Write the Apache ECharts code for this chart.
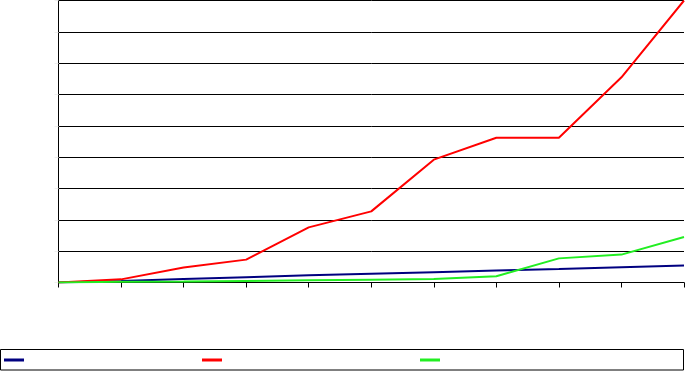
<!DOCTYPE html>
<html><head><meta charset="utf-8">
<script src="https://cdn.jsdelivr.net/npm/echarts@6/dist/echarts.min.js"></script>
<style>html,body{margin:0;padding:0;background:#fff}#c{width:685px;height:371px}</style>
</head><body><div id="c"></div>
<script>
const categories = ['1','2','3','4','5','6','7','8','9','10','11'];
const seriesNames = [' ', '  ', '   '];
const blueValues  = [0, 0.05, 0.11, 0.17, 0.23, 0.28, 0.33, 0.38, 0.43, 0.49, 0.54];
const redValues   = [0, 0.1, 0.48, 0.73, 1.76, 2.27, 3.92, 4.62, 4.62, 6.55, 9.0];
const greenValues = [0, 0.02, 0.03, 0.05, 0.07, 0.09, 0.11, 0.2, 0.77, 0.89, 1.45];
const colors = ['#000080', '#ff0000', '#22ee22'];

const chart = echarts.init(document.getElementById('c'), null, {renderer: 'canvas'});
const mkSeries = (name, data, color) => ({
  name, type: 'line', data, symbol: 'none', smooth: false,
  lineStyle: {color, width: 2}, itemStyle: {color}, animation: false
});
const legendLefts = [4, 202, 420];
chart.setOption({
  animation: false,
  grid: {left: 58.5, right: 1, top: 0.5, bottom: 88.5, containLabel: false},
  xAxis: {
    type: 'category', data: categories, boundaryGap: false,
    axisLine: {lineStyle: {color: '#000', width: 1}},
    axisTick: {show: true, length: 5, lineStyle: {color: '#000'}, alignWithLabel: true},
    axisLabel: {show: false},
    splitLine: {show: false}
  },
  yAxis: {
    type: 'value', min: 0, max: 9, interval: 1,
    axisLine: {show: true, lineStyle: {color: '#000', width: 1}},
    axisTick: {show: true, length: 4, lineStyle: {color: '#eee'}},
    axisLabel: {show: false},
    splitLine: {show: true, lineStyle: {color: '#000', width: 1}}
  },
  legend: seriesNames.map((n, i) => ({
    data: [n], left: legendLefts[i], top: 358, padding: 0,
    itemWidth: 20, itemHeight: 3, icon: 'rect',
    textStyle: {fontSize: 4, color: '#000'}
  })),
  graphic: [{
    type: 'rect', shape: {x: 0.5, y: 349.5, width: 683, height: 20.5},
    style: {fill: 'none', stroke: '#000', lineWidth: 1}, silent: true
  }],
  series: [
    mkSeries(seriesNames[0], blueValues, colors[0]),
    mkSeries(seriesNames[1], redValues, colors[1]),
    mkSeries(seriesNames[2], greenValues, colors[2])
  ]
});
</script></body></html>
